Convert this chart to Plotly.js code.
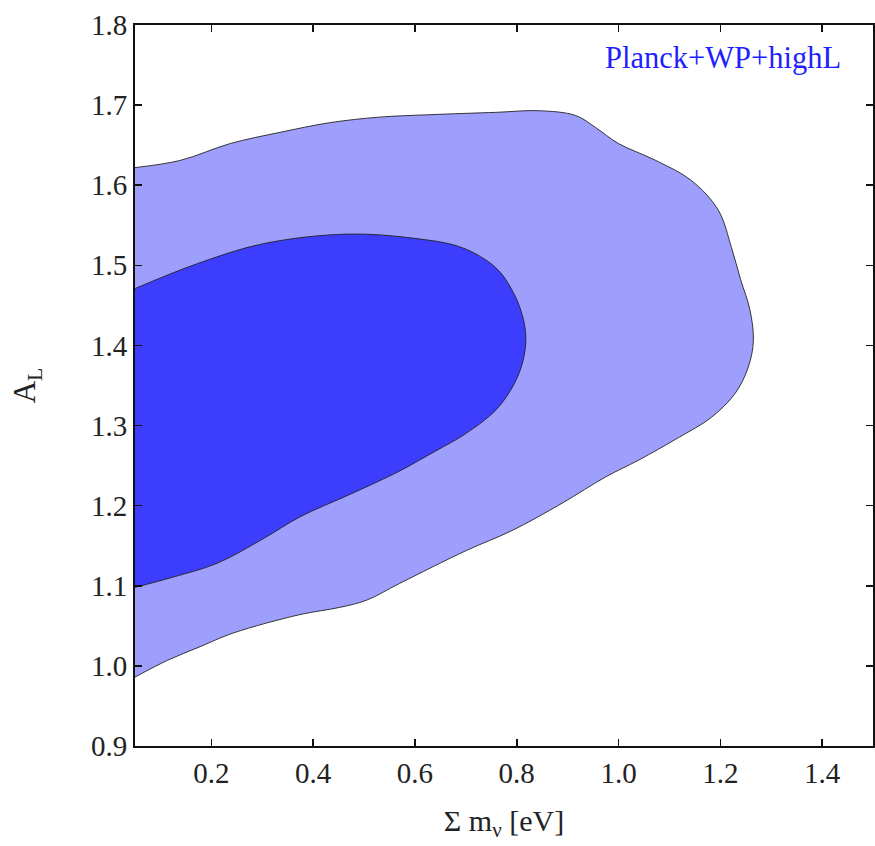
<!DOCTYPE html>
<html>
<head>
<meta charset="utf-8">
<script src="https://cdn.plot.ly/plotly-3.0.1.min.js"></script>
<style>html,body{margin:0;padding:0;background:#fff;}#chart{width:875px;height:846px;}</style>
</head>
<body>
<div id="chart"></div>
<script>
// 95% (outer) contour of Sum m_nu vs A_L
const outerX = [0.05, 0.139, 0.237, 0.335, 0.432, 0.530, 0.628, 0.760, 0.844, 0.916, 0.955, 1.0, 1.073, 1.143, 1.196, 1.222, 1.240, 1.258, 1.265, 1.255, 1.229, 1.182, 1.118, 1.040, 0.975, 0.889, 0.791, 0.701, 0.570, 0.505, 0.452, 0.374, 0.243, 0.178, 0.114, 0.05];
const outerY = [1.622, 1.631, 1.652, 1.666, 1.678, 1.685, 1.688, 1.691, 1.693, 1.687, 1.672, 1.652, 1.631, 1.606, 1.569, 1.522, 1.482, 1.445, 1.406, 1.373, 1.340, 1.310, 1.285, 1.257, 1.236, 1.203, 1.169, 1.144, 1.103, 1.082, 1.073, 1.064, 1.041, 1.024, 1.007, 0.986];
// 68% (inner) contour
const innerX = [0.05, 0.172, 0.302, 0.466, 0.595, 0.693, 0.759, 0.790, 0.810, 0.818, 0.812, 0.795, 0.760, 0.700, 0.640, 0.560, 0.472, 0.374, 0.300, 0.211, 0.120, 0.05];
const innerY = [1.471, 1.502, 1.527, 1.539, 1.534, 1.522, 1.497, 1.470, 1.440, 1.410, 1.380, 1.352, 1.320, 1.290, 1.268, 1.240, 1.214, 1.186, 1.158, 1.128, 1.110, 1.098];
const xTicks = [0.2, 0.4, 0.6, 0.8, 1.0, 1.2, 1.4];
const xTickText = ['0.2', '0.4', '0.6', '0.8', '1.0', '1.2', '1.4'];
const yTicks = [0.9, 1.0, 1.1, 1.2, 1.3, 1.4, 1.5, 1.6, 1.7, 1.8];
const yTickText = ['0.9', '1.0', '1.1', '1.2', '1.3', '1.4', '1.5', '1.6', '1.7', '1.8'];
const labelText = 'Planck+WP+highL';

const font = 'Liberation Serif, Times New Roman, serif';
const traces = [
  {x: outerX, y: outerY, mode: 'lines', fill: 'toself', fillcolor: '#9e9efc',
   line: {color: '#222', width: 0.9, shape: 'spline', smoothing: 1}, hoverinfo: 'skip', showlegend: false},
  {x: innerX, y: innerY, mode: 'lines', fill: 'toself', fillcolor: '#3d3dfe',
   line: {color: '#222', width: 0.9, shape: 'spline', smoothing: 1}, hoverinfo: 'skip', showlegend: false}
];
const axisCommon = {
  showgrid: false, zeroline: false, showline: true, linecolor: '#111', linewidth: 2,
  mirror: 'ticks', ticks: 'inside', ticklen: 7, tickwidth: 1.6, tickcolor: '#111',
  tickfont: {family: font, size: 29, color: '#222'}
};
const layout = {
  width: 875, height: 846,
  margin: {l: 134.5, r: 2, t: 24.5, b: 100},
  paper_bgcolor: '#fff', plot_bgcolor: '#fff',
  xaxis: Object.assign({}, axisCommon, {
    range: [0.05, 1.5], tickvals: xTicks, ticktext: xTickText,
    title: {text: 'Σ m<sub>ν</sub> [eV]', font: {family: font, size: 30, color: '#222'}, standoff: 22}
  }),
  yaxis: Object.assign({}, axisCommon, {
    range: [0.9, 1.8], tickvals: yTicks, ticktext: yTickText,
    title: {text: 'A<sub>L</sub>', font: {family: font, size: 31, color: '#222'}, standoff: 46}
  }),
  annotations: [{
    x: 1.442, y: 1.759, xref: 'x', yref: 'y', xanchor: 'right', yanchor: 'middle',
    text: labelText, showarrow: false, font: {family: font, size: 30.5, color: '#1f1fff'}
  }]
};
Plotly.newPlot('chart', traces, layout, {displayModeBar: false, staticPlot: true});
</script>
</body>
</html>
